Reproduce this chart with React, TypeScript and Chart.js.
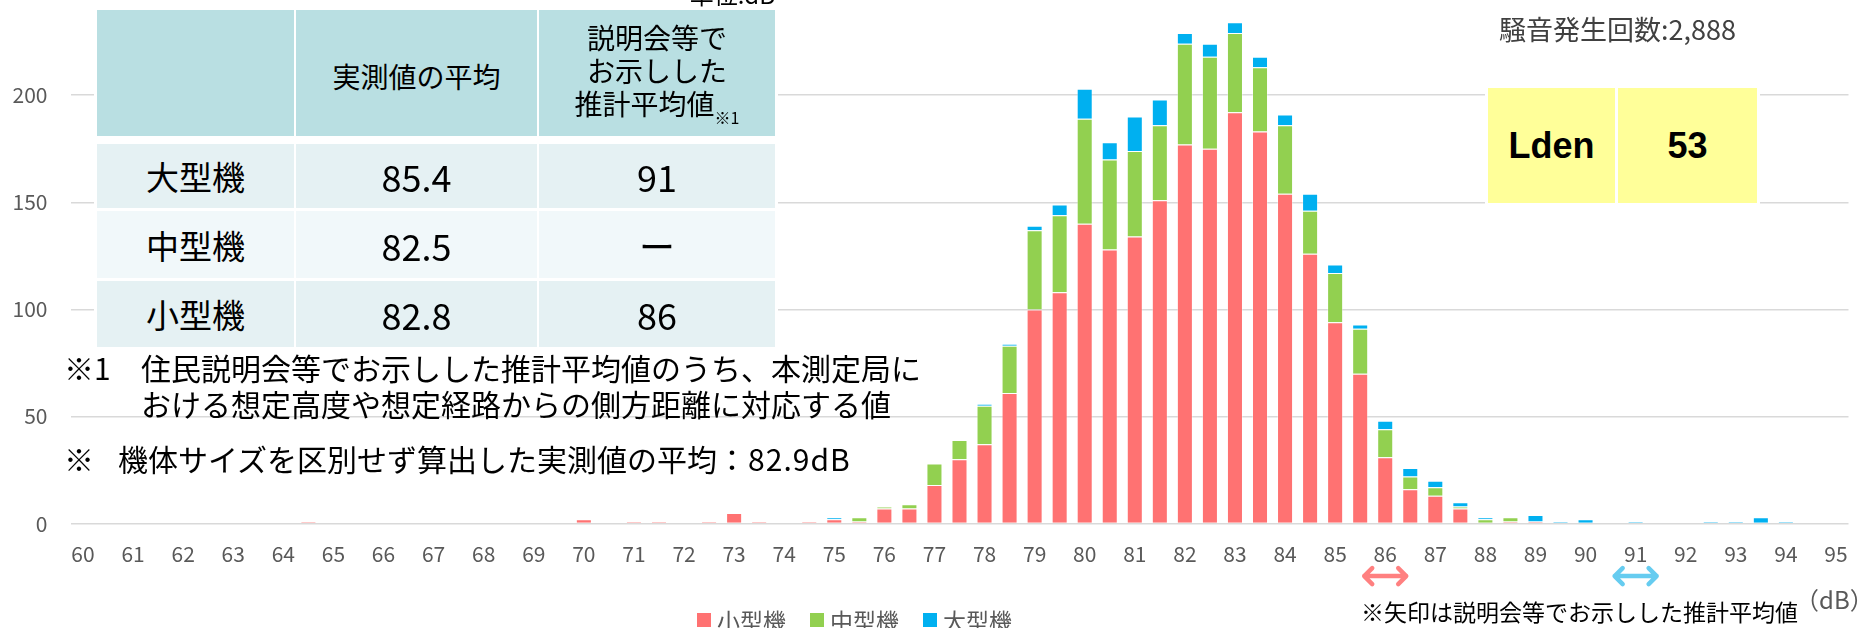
import React, { useEffect, useRef } from "react";
import { Chart, registerables } from "chart.js";

Chart.register(...registerables);

// ---- data ----
const categories = [
  "60", "60.5", "61", "61.5", "62", "62.5", "63", "63.5", "64", "64.5",
  "65", "65.5", "66", "66.5", "67", "67.5", "68", "68.5", "69", "69.5",
  "70", "70.5", "71", "71.5", "72", "72.5", "73", "73.5", "74", "74.5",
  "75", "75.5", "76", "76.5", "77", "77.5", "78", "78.5", "79", "79.5",
  "80", "80.5", "81", "81.5", "82", "82.5", "83", "83.5", "84", "84.5",
  "85", "85.5", "86", "86.5", "87", "87.5", "88", "88.5", "89", "89.5",
  "90", "90.5", "91", "91.5", "92", "92.5", "93", "93.5", "94", "94.5",
  "95",
];

const smallJets = [
  0, 0, 0, 0, 0, 0, 0, 0, 0, 1,
  0, 0, 0, 0, 0, 0, 0, 0, 0, 0,
  2, 0, 1, 1, 0, 1, 5, 1, 0, 1,
  2, 1, 7, 7, 18, 30, 37, 61, 100, 108,
  140, 128, 134, 151, 177, 175, 192, 183, 154, 126,
  94, 70, 31, 16, 13, 7, 0, 1, 1, 0,
  0, 0, 0, 0, 0, 0, 0, 0, 0, 0,
  0,
];

const midJets = [
  0, 0, 0, 0, 0, 0, 0, 0, 0, 0,
  0, 0, 0, 0, 0, 0, 0, 0, 0, 0,
  0, 0, 0, 0, 0, 0, 0, 0, 0, 0,
  0, 2, 1, 2, 10, 9, 18, 22, 37, 36,
  49, 42, 40, 35, 47, 43, 37, 30, 32, 20,
  23, 21, 13, 6, 4, 1, 2, 2, 0, 0,
  0, 0, 0, 0, 0, 0, 0, 0, 0, 0,
  0,
];

const largeJets = [
  0, 0, 0, 0, 0, 0, 0, 0, 0, 0,
  0, 0, 0, 0, 0, 0, 0, 0, 0, 0,
  0, 0, 0, 0, 0, 0, 0, 0, 0, 0,
  1, 0, 0, 0, 0, 0, 1, 1, 2, 5,
  14, 8, 16, 12, 5, 6, 5, 5, 5, 8,
  4, 2, 4, 4, 3, 2, 1, 0, 3, 1,
  2, 0, 1, 0, 0, 1, 1, 3, 1, 0,
  0,
];

const xTickLabels = [
  "60", "61", "62", "63", "64", "65", "66", "67", "68", "69",
  "70", "71", "72", "73", "74", "75", "76", "77", "78", "79",
  "80", "81", "82", "83", "84", "85", "86", "87", "88", "89",
  "90", "91", "92", "93", "94", "95",
];
const yTicks = [0, 50, 100, 150, 200];
const yMax = 240;

const seriesNames = ["小型機", "中型機", "大型機"];
const seriesColors = ["#FF7272", "#92D050", "#00B0F0"];

const tableHeader = ["", "実測値の平均", ["説明会等で", "お示しした", "推計平均値"]];
const tableRows = [
  ["大型機", "85.4", "91"],
  ["中型機", "82.5", "ー"],
  ["小型機", "82.8", "86"],
];

const estimateArrows = [
  { at: "86", color: "#FF8080" },
  { at: "91", color: "#66CCF0" },
];

const noiseCount = "騒音発生回数:2,888";
const ldenLabel = "Lden";
const ldenValue = "53";

const JP = '"Noto Sans CJK JP", "Noto Sans", sans-serif';
const ARIAL = '"Liberation Sans", Arial, sans-serif';

const arrowPlugin = {
  id: "estimateArrows",
  afterDraw(chart: any) {
    const { ctx, chartArea } = chart;
    const x = chart.scales.x;
    ctx.save();
    estimateArrows.forEach((a) => {
      const cx = x.getPixelForValue(categories.indexOf(a.at));
      const y = chartArea.bottom + 52.5;
      const half = 21;
      const head = 8;
      ctx.strokeStyle = a.color;
      ctx.lineWidth = 4.5;
      ctx.lineCap = "round";
      ctx.lineJoin = "round";
      ctx.beginPath();
      ctx.moveTo(cx - half, y);
      ctx.lineTo(cx + half, y);
      ctx.moveTo(cx - half + head, y - head);
      ctx.lineTo(cx - half, y);
      ctx.lineTo(cx - half + head, y + head);
      ctx.moveTo(cx + half - head, y - head);
      ctx.lineTo(cx + half, y);
      ctx.lineTo(cx + half - head, y + head);
      ctx.stroke();
    });
    ctx.restore();
  },
};

function Txt(props: any) {
  const { x, cy, size, color = "#000", weight = 400, family = JP, children, lh } = props;
  const lineH = lh || Math.round(size * 1.3);
  return (
    <div
      style={{
        position: "absolute",
        left: x,
        top: cy - lineH / 2,
        fontSize: size,
        lineHeight: `${lineH}px`,
        color,
        fontWeight: weight,
        fontFamily: family,
        whiteSpace: "nowrap",
      }}
    >
      {children}
    </div>
  );
}

function Cell(props: any) {
  const { x0, x1, y0, y1, bg, children } = props;
  return (
    <div
      style={{
        position: "absolute",
        left: x0,
        top: y0,
        width: x1 - x0,
        height: y1 - y0,
        background: bg,
        display: "flex",
        flexDirection: "column",
        alignItems: "center",
        justifyContent: "center",
        color: "#000",
        fontFamily: JP,
        whiteSpace: "nowrap",
      }}
    >
      {children}
    </div>
  );
}

export default function App() {
  const canvasRef = useRef<HTMLCanvasElement | null>(null);

  useEffect(() => {
    const canvas = canvasRef.current;
    if (!canvas) return;
    const chart = new Chart(canvas, {
      type: "bar",
      data: {
        labels: categories,
        datasets: [smallJets, midJets, largeJets].map((d, i) => ({
          label: seriesNames[i],
          data: d,
          backgroundColor: seriesColors[i],
          borderColor: "rgba(255,255,255,0.35)",
          borderWidth: 1,
          barPercentage: 0.64,
          categoryPercentage: 1,
        })),
      },
      options: {
        animation: false,
        responsive: false,
        maintainAspectRatio: false,
        devicePixelRatio: 1,
        layout: { padding: { left: 0, right: 17.5, top: 9.5, bottom: 0 } },
        plugins: { legend: { display: false }, tooltip: { enabled: false } },
        scales: {
          x: {
            stacked: true,
            grid: { display: false, drawTicks: false },
            border: { display: false },
            ticks: {
              autoSkip: false,
              maxRotation: 0,
              minRotation: 0,
              padding: 18,
              color: "#595959",
              font: { family: JP, size: 21 },
              callback: (_v: any, i: number) =>
                xTickLabels.includes(categories[i]) ? categories[i] : "",
            },
            afterFit: (s: any) => {
              s.height = 104.4;
              s.paddingLeft = 0;
              s.paddingRight = 0;
              s.paddingTop = 0;
              s.paddingBottom = 0;
            },
          },
          y: {
            stacked: true,
            min: 0,
            max: yMax,
            afterBuildTicks: (s: any) => {
              s.ticks = yTicks.map((v) => ({ value: v }));
            },
            ticks: {
              padding: 23,
              color: "#595959",
              font: { family: JP, size: 21 },
            },
            grid: { color: "#d9d9d9", lineWidth: 1.5, drawTicks: false },
            border: { display: false },
            afterFit: (s: any) => {
              s.width = 70.5;
              s.paddingTop = 0;
              s.paddingBottom = 0;
              s.paddingLeft = 0;
              s.paddingRight = 0;
            },
          },
        },
      },
      plugins: [arrowPlugin],
    } as any);
    return () => chart.destroy();
  }, []);

  const colX = [
    [97, 294],
    [296, 537],
    [539, 775],
  ];
  const rowY = [
    [144, 208],
    [211, 278],
    [281, 347],
  ];
  const rowBg = ["#E5F1F3", "#F1F8FA", "#E5F1F3"];

  return (
    <div
      style={{
        position: "absolute",
        left: 0,
        top: 0,
        width: 1866,
        height: 628,
        overflow: "hidden",
        background: "#fff",
      }}
    >
      <canvas ref={canvasRef} width={1866} height={628} style={{ display: "block", width: 1866, height: 628 }} />

      {/* unit label (cut at top) */}
      <div
        style={{
          position: "absolute",
          left: 575,
          width: 200,
          top: -18,
          textAlign: "right",
          fontSize: 24,
          lineHeight: "24px",
          fontFamily: JP,
          color: "#000",
        }}
      >
        単位:dB
      </div>

      {/* table */}
      <div style={{ position: "absolute", left: 94, top: 7, width: 684, height: 343, background: "#fff" }} />
      <Cell x0={colX[0][0]} x1={colX[0][1]} y0={10} y1={136} bg="#B9DFE2" />
      <Cell x0={colX[1][0]} x1={colX[1][1]} y0={10} y1={136} bg="#B9DFE2">
        <div style={{ fontSize: 28, lineHeight: "33px", marginTop: 6 }}>{tableHeader[1] as string}</div>
      </Cell>
      <Cell x0={colX[2][0]} x1={colX[2][1]} y0={10} y1={136} bg="#B9DFE2">
        {(tableHeader[2] as string[]).map((t, i) => (
          <div key={i} style={{ fontSize: 28, lineHeight: "33px", position: "relative" }}>
            {t}
            {i === 2 ? (
              <span style={{ fontSize: 16, position: "relative", top: 9 }}>※1</span>
            ) : null}
          </div>
        ))}
      </Cell>
      {tableRows.map((r, ri) =>
        r.map((v, ci) => (
          <Cell key={`${ri}-${ci}`} x0={colX[ci][0]} x1={colX[ci][1]} y0={rowY[ri][0]} y1={rowY[ri][1]} bg={rowBg[ri]}>
            <div style={{ fontSize: ci === 0 ? 33 : 36, lineHeight: "40px" }}>{v}</div>
          </Cell>
        ))
      )}

      {/* notes */}
      <Txt x={64} cy={367} size={30}>※1</Txt>
      <Txt x={141} cy={367} size={30}>住民説明会等でお示しした推計平均値のうち、本測定局に</Txt>
      <Txt x={141} cy={403} size={30}>おける想定高度や想定経路からの側方距離に対応する値</Txt>
      <Txt x={64} cy={458} size={30}>※</Txt>
      <Txt x={118} cy={458} size={30}>
        機体サイズを区別せず算出した実測値の平均
        <span style={{ letterSpacing: 1 }}>：82.9dB</span>
      </Txt>

      {/* noise count */}
      <Txt x={1499} cy={28} size={27} color="#404040">{noiseCount}</Txt>

      {/* Lden box */}
      <div style={{ position: "absolute", left: 1485, top: 85, width: 275, height: 121, background: "#fff" }} />
      <Cell x0={1488} x1={1615} y0={88} y1={203} bg="#FFFF99">
        <div style={{ fontFamily: ARIAL, fontWeight: 700, fontSize: 36, lineHeight: "40px" }}>{ldenLabel}</div>
      </Cell>
      <Cell x0={1618} x1={1757} y0={88} y1={203} bg="#FFFF99">
        <div style={{ fontFamily: ARIAL, fontWeight: 700, fontSize: 36, lineHeight: "40px" }}>{ldenValue}</div>
      </Cell>

      {/* dB unit and arrow note */}
      <Txt x={1795} cy={598} size={24} color="#595959">（dB）</Txt>
      <Txt x={1361} cy={611} size={23}>※矢印は説明会等でお示しした推計平均値</Txt>

      {/* legend */}
      {seriesNames.map((n, i) => {
        const bx = [697, 810, 923][i];
        return (
          <React.Fragment key={n}>
            <div style={{ position: "absolute", left: bx, top: 613, width: 14, height: 14, background: seriesColors[i] }} />
            <Txt x={bx + 20} cy={620} size={23} color="#595959">{n}</Txt>
          </React.Fragment>
        );
      })}
    </div>
  );
}
